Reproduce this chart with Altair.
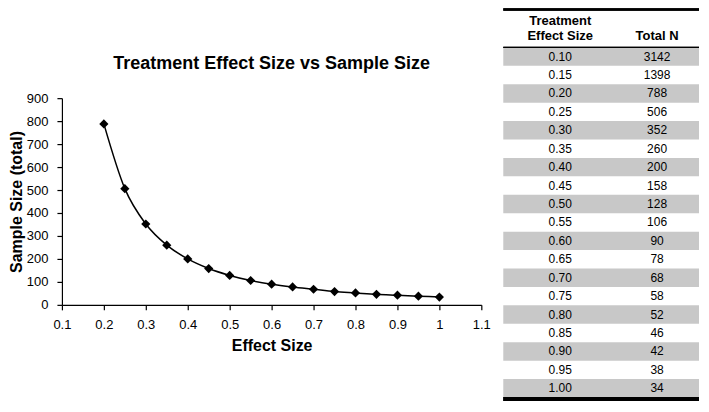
import altair as alt
import pandas as pd

# ---- data ----
effect_sizes = [0.10, 0.15, 0.20, 0.25, 0.30, 0.35, 0.40, 0.45, 0.50, 0.55,
                0.60, 0.65, 0.70, 0.75, 0.80, 0.85, 0.90, 0.95, 1.00]
total_n = [3142, 1398, 788, 506, 352, 260, 200, 158, 128, 106,
           90, 78, 68, 58, 52, 46, 42, 38, 34]
x_ticks = [0.1, 0.2, 0.3, 0.4, 0.5, 0.6, 0.7, 0.8, 0.9, 1.0, 1.1]
y_ticks = [0, 100, 200, 300, 400, 500, 600, 700, 800, 900]
header_effect = "Treatment\nEffect Size"
header_n = "Total N"
chart_title = "Treatment Effect Size vs Sample Size"
x_title = "Effect Size"
y_title = "Sample Size (total)"

FONT = "Liberation Sans"

# ---- left: curve ----
curve_df = pd.DataFrame({"effect": effect_sizes, "n": total_n})
curve_df = curve_df[curve_df["effect"] >= 0.2 - 1e-9]

base = alt.Chart(curve_df).encode(
    x=alt.X("effect:Q",
            scale=alt.Scale(domain=[0.1, 1.1], nice=False, zero=False),
            axis=alt.Axis(values=x_ticks, format="~g", title=x_title,
                          labelFlush=False, labelOverlap=False,
                          labelPadding=9, titlePadding=6)),
    y=alt.Y("n:Q",
            scale=alt.Scale(domain=[0, 900], nice=False),
            axis=alt.Axis(values=y_ticks, title=y_title,
                          labelPadding=9, titlePadding=2)),
)
line = base.mark_line(interpolate="monotone", color="black", strokeWidth=1.5)
pts = base.mark_point(shape="diamond", filled=True, size=85, color="black", opacity=1)

left = alt.layer(line, pts).properties(
    width=420, height=207,
    title=alt.TitleParams(text=chart_title, fontSize=18, font=FONT,
                          fontWeight="bold", offset=19,
                          anchor="middle", frame="group", color="black"),
)

# ---- right: table ----
table_columns = [header_effect, header_n]
rows_df = pd.DataFrame({"row": list(range(len(effect_sizes))),
                        "effect": effect_sizes, "n": total_n})
cells = []
for i, (e, n) in enumerate(zip(effect_sizes, total_n)):
    cells.append({"row": i, "col": header_effect, "text": f"{e:.2f}"})
    cells.append({"row": i, "col": header_n, "text": str(n)})
cells_df = pd.DataFrame(cells)
header_df = pd.DataFrame({"col": table_columns})

TW = 196
n_rows = len(effect_sizes)
# table rows are drawn in row units; the range reaches above the view origin so the
# table can start at the top of the page while the plot areas stay aligned
yscale = alt.Scale(domain=[-2.12, n_rows + 0.12], range=[-90, 302], nice=False, zero=False)
xscale = alt.Scale(domain=table_columns, range=[57, 154], padding=0)

bands = alt.Chart(rows_df).transform_filter("datum.row % 2 == 0").transform_calculate(
    row_end="datum.row + 1").mark_rect(color="#c8c8c8").encode(
    y=alt.Y("row:Q", scale=yscale, axis=None), y2="row_end:Q")

top_rule = alt.Chart(header_df).mark_rule(color="black", strokeWidth=2.5).encode(
    y=alt.YDatum(-2.05, scale=yscale, axis=None))
mid_rule = alt.Chart(header_df).mark_rule(color="black", strokeWidth=1.4).encode(
    y=alt.YDatum(0, scale=yscale, axis=None))
bot_rule = alt.Chart(header_df).mark_rule(color="black", strokeWidth=4).encode(
    y=alt.YDatum(n_rows + 0.08, scale=yscale, axis=None))

cell_text = alt.Chart(cells_df).transform_calculate(
    row_mid="datum.row + 0.5").mark_text(
    font=FONT, fontSize=12, color="black", baseline="middle", align="center").encode(
    x=alt.X("col:N", scale=xscale, axis=None),
    y=alt.Y("row_mid:Q", scale=yscale, axis=None),
    text="text:N")

header_text_1 = alt.Chart(header_df).transform_filter(
    alt.datum.col == header_effect).mark_text(
    font=FONT, fontSize=13, fontWeight="bold", color="black", baseline="alphabetic",
    align="center", lineBreak="\n", lineHeight=15, dy=-22).encode(
    x=alt.X("col:N", scale=xscale, axis=None),
    y=alt.YDatum(0, scale=yscale, axis=None),
    text="col:N")

header_text_2 = alt.Chart(header_df).transform_filter(
    alt.datum.col == header_n).mark_text(
    font=FONT, fontSize=13, fontWeight="bold", color="black", baseline="alphabetic",
    align="center", dy=-7).encode(
    x=alt.X("col:N", scale=xscale, axis=None),
    y=alt.YDatum(0, scale=yscale, axis=None),
    text="col:N")

table = alt.layer(bands, top_rule, mid_rule, bot_rule, cell_text,
                  header_text_1, header_text_2).properties(width=TW, height=207)

chart = alt.hconcat(left, table, spacing=10).properties(padding=0).configure_view(
    stroke=None).configure_axis(
    grid=False, domainColor="black", tickColor="black", labelColor="black",
    titleColor="black", domainWidth=1.2, tickWidth=1.2, tickSize=5,
    labelFont=FONT, titleFont=FONT, labelFontSize=13, titleFontSize=16,
    titleFontWeight="bold")

chart.save("out.html", embed_options={"renderer": "svg", "actions": False})
